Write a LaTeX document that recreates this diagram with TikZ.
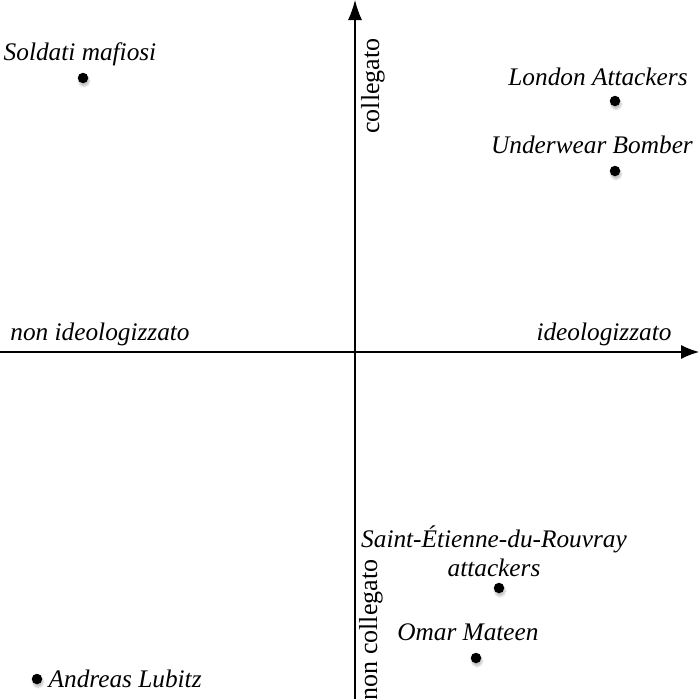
\documentclass[tikz,border=0pt]{standalone}
\usepackage{fontspec}
\setmainfont{Liberation Serif}
\usetikzlibrary{positioning, arrows.meta, shadows.blur}
\begin{document}
\begin{tikzpicture}[x = 1pt, y = -1pt,
	punto/.style = {circle, fill = black, inner sep = 0pt, minimum size = 10.5pt,
		blur shadow = {shadow xshift = 1pt, shadow yshift = -3pt, shadow opacity = 25, shadow blur steps = 6}},
	etichetta/.style = {font = \fontsize{25.3}{29}\selectfont\itshape, inner sep = 0pt, align = center},
	asse/.style = {font = \fontsize{26}{30}\selectfont, inner sep = 0pt}]
	%	frame setup
	
	\def\xmin{0}
	\def\xmax{699}
	
	\def\ymin{0}
	\def\ymax{699}
	\useasboundingbox (\xmin, \ymin) rectangle (\xmax, \ymax);
	
	%	axes
	\coordinate (ovest) at (\xmin, 352);
	\coordinate (est) at (\xmax, 352);
	\coordinate (sud) at (355, \ymax);
	\coordinate (nord) at (355, \ymin);
	\draw[-{Latex[length = 18pt, width = 14pt]}, line width = 1.1pt] (ovest) -- (est);
	\draw[-{Latex[length = 20pt, width = 14pt]}, line width = 1.1pt] (sud) -- (nord);
	
	\node[etichetta, anchor = base] (nonideo) at (100, 340) {non ideologizzato};
	\node[etichetta, anchor = base] (ideo) at (604, 340) {ideologizzato};
	\node[asse, rotate = 90, anchor = north] (coll) at (361, 86) {collegato};
	\node[asse, rotate = 90, anchor = north] (noncoll) at (359, 630) {non collegato};
	
	%	punti
	\node[punto] (mafiosi) at (83, 78) {};
	\node[punto] (london) at (615, 101) {};
	\node[punto] (underwear) at (615, 171) {};
	\node[punto] (rouvray) at (499, 588) {};
	\node[punto] (mateen) at (476, 658) {};
	\node[punto] (lubitz) at (37, 679) {};
	
	%	nomi
	\node[etichetta, anchor = base] (mafiosilab) at (80, 60) {Soldati mafiosi};
	\node[etichetta, anchor = base] (londonlab) at (598, 85) {London Attackers};
	\node[etichetta, anchor = base] (underwearlab) at (592, 153) {Underwear Bomber};
	\node[etichetta, anchor = base] (rouvraylab) at (494, 576) {Saint-Étienne-du-Rouvray\\attackers};
	\node[etichetta, anchor = base] (mateenlab) at (468, 640) {Omar Mateen};
	\node[etichetta, right = 6pt of lubitz] (lubitzlab) {Andreas Lubitz};
\end{tikzpicture}
\end{document}
